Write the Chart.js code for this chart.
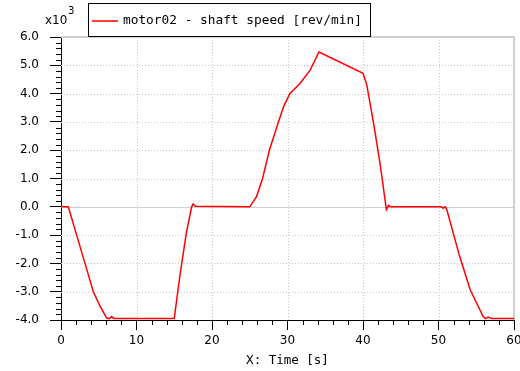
<!DOCTYPE html>
<html>
<head>
<meta charset="utf-8">
<script src="https://cdn.jsdelivr.net/npm/chart.js@4"></script>
<style>
  html, body { margin: 0; padding: 0; background: #fff; }
  #wrap { width: 520px; height: 371px; }
</style>
</head>
<body>
<div id="wrap"><canvas id="c" width="520" height="371"></canvas></div>
<script>
// time [s] and shaft speed [x10^3 rev/min]
const times = [0, 0.97, 2.07, 3.18, 4.28, 5.17, 6.05, 6.4, 6.7, 7.0, 15.0, 15.5, 15.8, 16.6, 17.3, 17.5, 17.8,
  25.0, 25.9, 26.7, 27.6, 28.8, 29.5, 30.3, 31.65, 33.0, 34.17, 40.0, 40.5, 41.4, 42.25, 43.1, 43.4, 43.7,
  50.4, 50.6, 50.9, 51.1, 52.8, 54.2, 55.9, 56.2, 56.6, 57.0, 60];
const speed = [0, 0, -1.0, -2.0, -3.0, -3.51, -3.93, -3.95, -3.88, -3.95, -3.95, -2.93, -2.34, -0.93, 0, 0.1, 0.02,
  0, 0.36, 1.0, 2.0, 3.0, 3.55, 4.0, 4.36, 4.83, 5.47, 4.72, 4.31, 2.96, 1.54, -0.1, 0.05, 0,
  0, -0.05, 0, -0.1, -1.75, -2.93, -3.87, -3.95, -3.9, -3.95, -3.95];
const seriesLabel = 'motor02 - shaft speed [rev/min]';
const xTitle = 'X: Time [s]';
const yScaleNote = 'x10';

const mono = 'DejaVu Sans Mono';
const sans = 'DejaVu Sans';

// dotted grid, minor ticks and the grey frame
const gridPlugin = {
  id: 'grid',
  beforeDatasetsDraw(chart) {
    const {ctx, chartArea: a, scales: {x, y}} = chart;
    ctx.save();
    ctx.lineWidth = 1;
    ctx.strokeStyle = '#c8c8c8';
    ctx.setLineDash([1, 2]);
    for (let v = 10; v < 60; v += 10) {
      const px = Math.round(x.getPixelForValue(v)) + 0.5;
      ctx.beginPath(); ctx.moveTo(px, a.top); ctx.lineTo(px, a.bottom); ctx.stroke();
    }
    for (let v = -3; v < 6; v += 1) {
      if (v === 0) continue;
      const py = Math.round(y.getPixelForValue(v)) + 0.5;
      ctx.beginPath(); ctx.moveTo(a.left, py); ctx.lineTo(a.right, py); ctx.stroke();
    }
    ctx.setLineDash([]);
    ctx.strokeStyle = '#d0d0d0';
    const y0 = Math.round(y.getPixelForValue(0)) + 0.5;
    ctx.beginPath(); ctx.moveTo(a.left, y0); ctx.lineTo(a.right, y0); ctx.stroke();
    ctx.lineWidth = 2;
    ctx.beginPath();
    ctx.moveTo(a.left, a.top); ctx.lineTo(a.right, a.top); ctx.lineTo(a.right, a.bottom);
    ctx.stroke();

    // minor ticks
    ctx.lineWidth = 1;
    ctx.strokeStyle = '#000';
    for (let v = 2; v < 60; v += 2) {
      if (v % 10 === 0) continue;
      const px = Math.round(x.getPixelForValue(v)) + 0.5;
      ctx.beginPath(); ctx.moveTo(px, a.bottom); ctx.lineTo(px, a.bottom + 5); ctx.stroke();
    }
    for (let i = -20; i <= 30; i++) {
      if (i % 5 === 0) continue;
      const py = Math.round(y.getPixelForValue(i / 5)) + 0.5;
      ctx.beginPath(); ctx.moveTo(a.left - 5, py); ctx.lineTo(a.left, py); ctx.stroke();
    }
    ctx.restore();
  },
  afterDraw(chart) {
    const {ctx} = chart;
    ctx.save();
    // exponent note
    ctx.fillStyle = '#000';
    ctx.textBaseline = 'alphabetic';
    ctx.font = '12px ' + sans;
    ctx.fillText(yScaleNote, 45, 24);
    ctx.font = '10px ' + sans;
    ctx.fillText('3', 68, 14);
    // legend box
    ctx.fillStyle = '#fff';
    ctx.fillRect(88.5, 3.5, 282, 33);
    ctx.strokeStyle = '#000';
    ctx.lineWidth = 1;
    ctx.strokeRect(88.5, 3.5, 282, 33);
    const ds = chart.data.datasets[0];
    ctx.strokeStyle = ds.borderColor;
    ctx.lineWidth = 1.5;
    ctx.beginPath(); ctx.moveTo(92, 21); ctx.lineTo(118, 21); ctx.stroke();
    ctx.fillStyle = '#000';
    ctx.font = '12.8px ' + mono;
    ctx.textBaseline = 'middle';
    ctx.fillText(ds.label, 123, 21);
    ctx.restore();
  }
};

const points = times.map((t, i) => ({x: t, y: speed[i]}));

new Chart(document.getElementById('c'), {
  type: 'line',
  data: {
    datasets: [{
      label: seriesLabel,
      data: points,
      borderColor: '#ff0000',
      borderWidth: 1.5,
      pointRadius: 0,
      tension: 0,
      fill: false
    }]
  },
  options: {
    responsive: false,
    animation: false,
    devicePixelRatio: 1,
    layout: {padding: {top: 37, right: 6, left: 0, bottom: 0}},
    plugins: {legend: {display: false}, tooltip: {enabled: false}},
    scales: {
      x: {
        type: 'linear',
        min: 0, max: 60,
        ticks: {stepSize: 10, color: '#000', font: {family: sans, size: 12}, padding: 4, maxRotation: 0},
        grid: {drawOnChartArea: false, color: '#000', tickLength: 10},
        border: {color: '#000', width: 1},
        title: {display: true, text: xTitle, color: '#000', font: {family: mono, size: 12.5}, padding: {top: 3, bottom: 3}},
        afterFit(s) { s.height = 51; s.paddingLeft = 0; s.paddingRight = 0; }
      },
      y: {
        min: -4, max: 6,
        ticks: {stepSize: 1, color: '#000', font: {family: sans, size: 12}, padding: 11,
          callback: v => v.toFixed(1)},
        grid: {drawOnChartArea: false, color: '#000', tickLength: 11},
        border: {color: '#000', width: 1},
        afterFit(s) { s.width = 61; s.paddingTop = 0; s.paddingBottom = 0; }
      }
    }
  },
  plugins: [gridPlugin]
});
</script>
</body>
</html>
